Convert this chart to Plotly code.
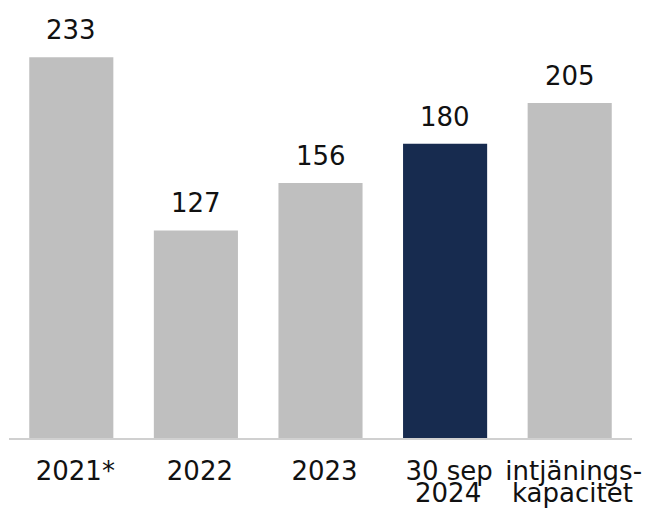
import plotly.graph_objects as go

# Category keys, values and the two-line axis labels
categories = ["2021*", "2022", "2023", "30 sep 2024", "intjänings-kapacitet"]
values = [233, 127, 156, 180, 205]
label_line1 = ["2021*", "2022", "2023", "30 sep", "intjänings-"]
label_line2 = ["", "", "", "2024", "kapacitet"]
highlight = "30 sep 2024"

GREY = "#bfbfbf"
NAVY = "#172b4f"
FONT = "DejaVu Sans"
TEXT = "#111111"
SIZE = 26

# category positions on a linear axis (avoids year-like strings being read as numbers)
pos = list(range(len(categories)))
bar_colors = [NAVY if c == highlight else GREY for c in categories]

fig = go.Figure(
    go.Bar(
        x=pos,
        y=values,
        marker=dict(color=bar_colors, line=dict(width=0)),
        hoverinfo="skip",
    )
)

annotations = []
# value labels above each bar
for p, v in zip(pos, values):
    annotations.append(dict(
        x=p, y=v, xref="x", yref="y", text=str(v), showarrow=False,
        xanchor="center", yanchor="bottom", yshift=10,
        font=dict(family=FONT, size=SIZE, color=TEXT),
    ))
# second line of the category labels, set tight under the tick labels
for p, t in zip(pos, label_line2):
    if t:
        annotations.append(dict(
            x=p, y=0, xref="x", yref="paper", text=t, showarrow=False,
            xanchor="center", yanchor="top", yshift=-38, xshift=3,
            font=dict(family=FONT, size=SIZE, color=TEXT),
        ))

fig.update_layout(
    width=660, height=512,
    margin=dict(l=9, r=28, t=0, b=74),
    paper_bgcolor="white", plot_bgcolor="white",
    bargap=0.325,
    showlegend=False,
    annotations=annotations,
    font=dict(family=FONT, size=SIZE, color=TEXT),
)
fig.update_xaxes(
    type="linear", range=[-0.5, len(categories) - 0.5],
    tickmode="array", tickvals=pos, ticktext=label_line1,
    tickangle=0,
    showline=True, linecolor="#d0d0d0", linewidth=1.5,
    showgrid=False, zeroline=False, ticks="", ticklabelshift=4, ticklabelstandoff=9,
    tickfont=dict(family=FONT, size=SIZE, color=TEXT),
)
fig.update_yaxes(
    range=[0, 268], visible=False, showgrid=False, zeroline=False,
)

fig.write_html("out.html")
